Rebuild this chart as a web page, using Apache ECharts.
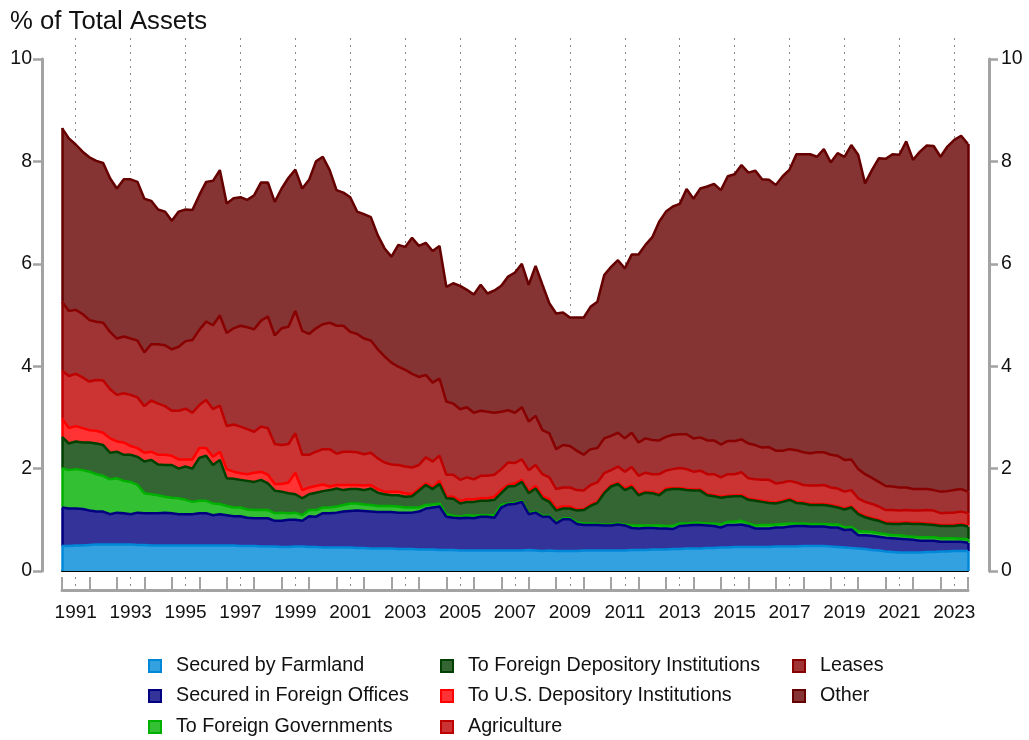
<!DOCTYPE html>
<html>
<head>
<meta charset="utf-8">
<script src="https://cdn.jsdelivr.net/npm/echarts@6/dist/echarts.min.js"></script>
<style>
  html, body { margin: 0; padding: 0; background: #fff; }
  #chart { width: 1029px; height: 740px; }
</style>
</head>
<body>
<div id="chart"></div>
<script>
// quarterly categories, 1991Q1 .. 2024Q1
var quarters = [];
for (var y = 1991; y <= 2024; y++) {
  for (var q = 1; q <= 4; q++) quarters.push(y + "Q" + q);
}
quarters.length = 133;

// series values, % of total assets
var farmland = [
  0.49,0.49,0.5,0.5,0.51,0.52,0.52,0.52,0.52,0.52,0.52,
  0.51,0.51,0.5,0.5,0.5,0.5,0.5,0.5,0.5,0.5,
  0.5,0.5,0.5,0.5,0.5,0.49,0.49,0.49,0.48,0.48,0.48,0.47,0.47,
  0.48,0.48,0.47,0.47,0.46,0.46,0.46,0.46,0.46,0.45,
  0.45,0.44,0.44,0.44,0.44,0.43,0.43,0.43,0.42,0.42,
  0.42,0.41,0.41,0.41,0.4,0.4,0.4,0.4,0.4,0.4,
  0.4,0.4,0.4,
  0.4,0.41,0.4,0.39,0.4,0.39,0.39,0.39,0.39,0.4,
  0.4,0.4,0.4,0.4,0.4,0.4,0.41,0.41,0.41,0.42,
  0.42,0.42,0.43,0.43,0.44,0.44,0.44,0.45,0.45,0.46,
  0.46,0.47,0.47,
  0.47,0.47,0.47,0.47,0.48,0.48,0.48,0.48,0.49,0.49,
  0.49,0.49,0.48,0.47,0.46,0.45,0.44,0.43,0.41,0.4,
  0.38,0.37,0.36,0.36,0.36,0.36,0.37,0.37,0.38,0.38,
  0.39,0.39,0.39
];
var foreignOffices = [
  0.75,0.73,0.72,0.71,0.67,0.64,0.64,0.59,0.62,0.61,
  0.59,0.63,0.62,0.63,0.63,0.64,0.63,0.61,0.61,0.61,
  0.63,0.63,0.59,0.61,0.59,0.57,0.58,0.55,0.54,0.55,
  0.55,0.5,0.51,0.53,0.52,0.5,0.6,0.59,0.67,0.67,
  0.68,0.7,0.71,0.73,0.72,0.72,0.71,0.71,0.71,0.71,
  0.71,0.71,0.74,0.8,0.82,0.85,0.65,0.63,0.63,0.64,
  0.63,0.66,0.66,0.64,0.84,0.9,0.91,0.95,0.7,0.74,
  0.67,0.66,0.54,0.62,0.62,0.53,0.5,0.5,0.5,0.49,
  0.49,0.51,0.49,0.43,0.42,0.43,0.42,0.41,0.41,0.39,
  0.45,0.45,0.46,0.46,0.44,0.43,0.39,0.44,0.43,0.44,
  0.41,0.36,0.36,0.36,0.37,0.37,0.39,0.4,0.39,0.38,
  0.38,0.38,0.37,0.38,0.34,0.36,0.26,0.27,0.28,0.27,
  0.27,0.27,0.27,0.26,0.25,0.23,0.22,0.22,0.19,0.19,
  0.18,0.18,0.16
];
var foreignGovts = [
  0.77,0.75,0.77,0.76,0.76,0.73,0.7,0.68,0.67,0.63,
  0.63,0.54,0.39,0.37,0.35,0.31,0.3,0.31,0.28,0.24,
  0.24,0.24,0.23,0.2,0.18,0.17,0.17,0.16,0.16,0.16,
  0.16,0.15,0.16,0.13,0.14,0.11,0.12,0.13,0.11,0.11,
  0.12,0.13,0.15,0.14,0.13,0.13,0.12,0.12,0.12,0.12,
  0.1,0.1,0.08,0.07,0.06,0.06,0.05,0.04,0.03,0.05,
  0.05,0.03,0.03,0.05,0.05,0.02,0.02,0.02,0.02,0.02,
  0.02,0.02,0.02,0.02,0.02,0.03,0.03,0.03,0.02,0.02,
  0.02,0.02,0.02,0.05,0.06,0.05,0.05,0.06,0.05,0.06,
  0.05,0.04,0.04,0.04,0.04,0.05,0.06,0.06,0.06,0.07,
  0.05,0.06,0.07,0.07,0.06,0.07,0.06,0.05,0.05,0.05,
  0.05,0.05,0.06,0.06,0.05,0.05,0.07,0.07,0.07,0.07,
  0.07,0.06,0.07,0.06,0.06,0.07,0.07,0.07,0.07,0.07,
  0.07,0.06,0.07
];
var foreignDepository = [
  0.61,0.52,0.54,0.54,0.57,0.6,0.6,0.52,0.52,0.51,
  0.53,0.55,0.62,0.67,0.6,0.62,0.64,0.58,0.65,0.65,
  0.84,0.88,0.75,0.86,0.54,0.56,0.54,0.56,0.55,0.59,
  0.52,0.44,0.41,0.39,0.36,0.33,0.31,0.34,0.32,0.34,
  0.35,0.29,0.28,0.28,0.28,0.32,0.26,0.23,0.21,0.22,
  0.21,0.22,0.33,0.39,0.3,0.38,0.31,0.33,0.26,0.26,
  0.27,0.28,0.28,0.3,0.23,0.33,0.33,0.37,0.39,0.45,
  0.34,0.27,0.23,0.19,0.19,0.23,0.26,0.34,0.41,0.61,
  0.74,0.77,0.67,0.75,0.59,0.64,0.63,0.59,0.7,0.72,
  0.67,0.65,0.63,0.63,0.55,0.53,0.52,0.49,0.5,0.48,
  0.46,0.48,0.45,0.43,0.41,0.43,0.46,0.4,0.39,0.37,
  0.37,0.37,0.36,0.33,0.35,0.38,0.34,0.28,0.25,0.24,
  0.21,0.22,0.22,0.25,0.25,0.26,0.25,0.24,0.24,0.24,
  0.24,0.27,0.25
];
var usDepository = [
  0.36,0.3,0.3,0.28,0.24,0.25,0.24,0.28,0.2,0.24,
  0.17,0.17,0.17,0.16,0.19,0.2,0.18,0.18,0.14,0.18,
  0.19,0.15,0.16,0.16,0.18,0.14,0.13,0.13,0.18,0.16,
  0.17,0.13,0.15,0.21,0.42,0.16,0.13,0.13,0.13,0.07,
  0.07,0.1,0.08,0.08,0.09,0.07,0.07,0.05,0.07,0.07,
  0.07,0.04,0.03,0.03,0.03,0.06,0.03,0.04,0.05,0.05,
  0.05,0.05,0.05,0.06,0.06,0.03,0.05,0.04,0.03,0.05,
  0.04,0.05,0.04,0.04,0.04,0.02,0.02,0.02,0.02,0.02,
  0.02,0.02,0.03,0.03,0.02,0.02,0.02,0.02,0.03,0.02,
  0.02,0.02,0.02,0.02,0.02,0.02,0.02,0.02,0.02,0.02,
  0.02,0.02,0.02,0.02,0.02,0.02,0.02,0.02,0.02,0.02,
  0.02,0.02,0.02,0.02,0.02,0.02,0.02,0.02,0.02,0.02,
  0.02,0.02,0.02,0.02,0.02,0.02,0.02,0.02,0.02,0.02,
  0.02,0.02,0.02
];
var agriculture = [
  0.93,1.02,1.02,0.99,0.95,0.99,1.02,0.96,0.91,0.96,
  1.0,0.99,0.91,1.0,1.0,0.95,0.88,0.95,0.99,0.91,
  0.84,0.94,0.93,0.9,0.84,0.92,0.91,0.88,0.8,0.88,
  0.91,0.78,0.76,0.75,0.77,0.69,0.64,0.67,0.69,0.73,
  0.61,0.65,0.65,0.64,0.61,0.63,0.6,0.57,0.53,0.52,
  0.52,0.52,0.47,0.51,0.51,0.49,0.43,0.43,0.41,0.43,
  0.39,0.44,0.44,0.43,0.41,0.44,0.4,0.4,0.42,0.41,
  0.43,0.43,0.38,0.37,0.37,0.38,0.36,0.39,0.38,0.37,
  0.3,0.32,0.33,0.36,0.36,0.37,0.35,0.39,0.35,0.37,
  0.39,0.39,0.35,0.37,0.39,0.41,0.38,0.42,0.41,0.45,
  0.4,0.4,0.41,0.43,0.37,0.36,0.35,0.38,0.34,0.36,
  0.36,0.37,0.34,0.35,0.33,0.32,0.29,0.28,0.28,0.26,
  0.24,0.25,0.24,0.24,0.24,0.24,0.26,0.26,0.23,0.24,
  0.24,0.24,0.24
];
var leases = [
  1.35,1.27,1.25,1.24,1.2,1.14,1.13,1.12,1.1,1.11,
  1.1,1.11,1.05,1.1,1.16,1.19,1.2,1.25,1.32,1.42,
  1.47,1.53,1.64,1.76,1.82,1.88,1.97,1.99,2.0,2.07,
  2.18,2.12,2.28,2.29,2.39,2.42,2.36,2.41,2.44,2.47,
  2.5,2.46,2.34,2.31,2.26,2.19,2.13,2.07,1.99,1.92,
  1.89,1.83,1.72,1.61,1.54,1.51,1.43,1.39,1.38,1.37,
  1.3,1.27,1.25,1.21,1.12,1.02,0.98,1.02,0.95,0.96,
  0.86,0.86,0.78,0.83,0.81,0.77,0.7,0.7,0.67,0.68,
  0.67,0.66,0.65,0.67,0.65,0.67,0.67,0.66,0.66,0.67,
  0.66,0.68,0.65,0.65,0.66,0.66,0.64,0.65,0.65,0.64,
  0.68,0.67,0.63,0.64,0.64,0.62,0.62,0.63,0.64,0.63,
  0.65,0.64,0.64,0.64,0.62,0.6,0.57,0.54,0.51,0.48,
  0.47,0.46,0.45,0.44,0.42,0.42,0.41,0.4,0.42,0.42,
  0.44,0.44,0.42
];
var other = [
  3.39,3.37,3.23,3.17,3.18,3.14,3.12,3.0,2.93,3.07,
  3.11,3.1,3.0,2.8,2.63,2.61,2.51,2.64,2.57,2.54,
  2.63,2.73,2.82,2.84,2.53,2.54,2.51,2.49,2.62,2.7,
  2.62,2.61,2.73,2.91,2.76,2.78,3.01,3.26,3.27,2.98,
  2.65,2.6,2.63,2.39,2.43,2.41,2.23,2.11,2.07,2.38,
  2.4,2.66,2.56,2.58,2.57,2.59,2.24,2.35,2.41,2.29,
  2.31,2.46,2.31,2.39,2.46,2.61,2.74,2.8,2.67,2.93,
  2.84,2.54,2.65,2.59,2.51,2.6,2.68,2.78,2.86,3.19,
  3.3,3.37,3.32,3.48,3.67,3.78,3.96,4.27,4.4,4.46,
  4.5,4.79,4.68,4.86,4.96,5.01,4.97,5.17,5.21,5.36,
  5.29,5.36,5.24,5.22,5.19,5.36,5.46,5.78,5.82,5.84,
  5.77,5.92,5.71,5.91,5.92,6.14,6.14,5.68,6.01,6.32,
  6.39,6.49,6.5,6.76,6.43,6.59,6.71,6.72,6.54,6.73,
  6.84,6.9,6.79
];

var names = [
  "Secured by Farmland", "Secured in Foreign Offices", "To Foreign Governments",
  "To Foreign Depository Institutions", "To U.S. Depository Institutions",
  "Agriculture", "Leases", "Other"
];
var values = [farmland, foreignOffices, foreignGovts, foreignDepository,
  usDepository, agriculture, leases, other];
var lineColors = ["#0088d8", "#000080", "#00b000", "#004000",
  "#ff0000", "#bf0000", "#880000", "#660000"];
var fillColors = ["#33a0e0", "#333399", "#33c033", "#336633",
  "#ff3333", "#cc3333", "#a03333", "#853333"];

// legend slots: column x, row y (centre)
var legendCols = [148, 148, 148, 440, 440, 440, 792, 792];
var legendRows = [664, 694, 725, 664, 694, 725, 664, 694];

var font = "'Liberation Sans', Arial, sans-serif";
var gray = "#a3a3a3";

var chart = echarts.init(document.getElementById("chart"));

var last = quarters.length - 1;
var baseFirst = 0, baseLast = 0;

var series = [];
// filled bands
for (var i = 0; i < names.length; i++) {
  series.push({
    type: "line", name: names[i], xAxisIndex: 1, yAxisIndex: 1,
    stack: "bands", data: values[i], symbol: "none", silent: true,
    itemStyle: { color: fillColors[i] },
    lineStyle: { width: 0 },
    areaStyle: { color: fillColors[i], opacity: 1 },
    z: 2
  });
}
// outlines on top, lower layers drawn last; the markLines close each band at both ends
for (var i = 0; i < names.length; i++) {
  var topFirst = baseFirst + values[i][0];
  var topLast = baseLast + values[i][last];
  series.push({
    type: "line", name: names[i], xAxisIndex: 1, yAxisIndex: 1,
    stack: "edges", data: values[i], symbol: "none", silent: true,
    itemStyle: { color: fillColors[i] },
    lineStyle: { color: lineColors[i], width: 2.5 },
    markLine: {
      silent: true, symbol: ["none", "none"], label: { show: false },
      lineStyle: { type: "solid", color: lineColors[i], width: 2.5 },
      data: [
        [{ coord: [quarters[0], baseFirst] }, { coord: [quarters[0], topFirst] }],
        [{ coord: [quarters[last], baseLast] }, { coord: [quarters[last], topLast] }]
      ]
    },
    z: 20 - i
  });
  baseFirst = topFirst;
  baseLast = topLast;
}

// one legend per entry so the three columns sit exactly
var legends = names.map(function (n, k) {
  return {
    left: legendCols[k], top: legendRows[k] - 8, padding: 0,
    icon: "rect", itemWidth: 12, itemHeight: 12,
    selectedMode: false,
    textStyle: { fontSize: 19.7, color: "#111", fontFamily: font, padding: [0, 0, 0, 10] },
    data: [{ name: n, itemStyle: { color: fillColors[k], borderColor: lineColors[k], borderWidth: 2 } }]
  };
});

var yAxisStyle = {
  gridIndex: 1, min: 0, max: 10, interval: 2,
  axisLine: { show: true, lineStyle: { color: gray, width: 3 } },
  axisTick: { show: true, length: 9, lineStyle: { color: gray, width: 2.5 } },
  splitLine: { show: false }
};

var option = {
  animation: false,
  backgroundColor: "#fff",
  title: {
    text: "% of Total Assets", left: 5, top: 4,
    textStyle: { fontSize: 25.7, fontWeight: "normal", color: "#111", fontFamily: font }
  },
  legend: legends,
  grid: [
    { left: 62, right: 61, top: 38, bottom: 150 },
    { left: 62, right: 61, top: 59, bottom: 169 }
  ],
  xAxis: [
    {
      gridIndex: 0, type: "category", data: quarters, boundaryGap: false,
      axisLine: { lineStyle: { color: gray, width: 3 } },
      axisTick: {
        inside: true, length: 13, lineStyle: { color: gray, width: 2 },
        interval: function (i) { return i % 4 === 0; }
      },
      axisLabel: {
        fontSize: 19, color: "#111", fontFamily: font, margin: 13,
        interval: function (i) { return i % 8 === 2; },
        formatter: function (v) { return v.slice(0, 4); }
      },
      splitLine: {
        show: true,
        interval: function (i) { return i % 8 === 2; },
        lineStyle: { color: "#8a8a8a", width: 1, type: [2, 5] }
      }
    },
    {
      gridIndex: 1, type: "category", data: quarters, boundaryGap: false,
      axisLine: { lineStyle: { color: "#000", width: 2 } },
      axisTick: { show: false }, axisLabel: { show: false }, splitLine: { show: false }
    }
  ],
  yAxis: [
    { gridIndex: 0, min: 0, max: 1, show: false },
    Object.assign({ position: "left", offset: 20,
      axisLabel: { fontSize: 19.5, color: "#111", fontFamily: font, margin: 10 } }, yAxisStyle),
    Object.assign({ position: "right", offset: 21,
      axisLabel: { fontSize: 19.5, color: "#111", fontFamily: font, margin: 12 } }, yAxisStyle)
  ],
  series: series
};

chart.setOption(option);
</script>
</body>
</html>
